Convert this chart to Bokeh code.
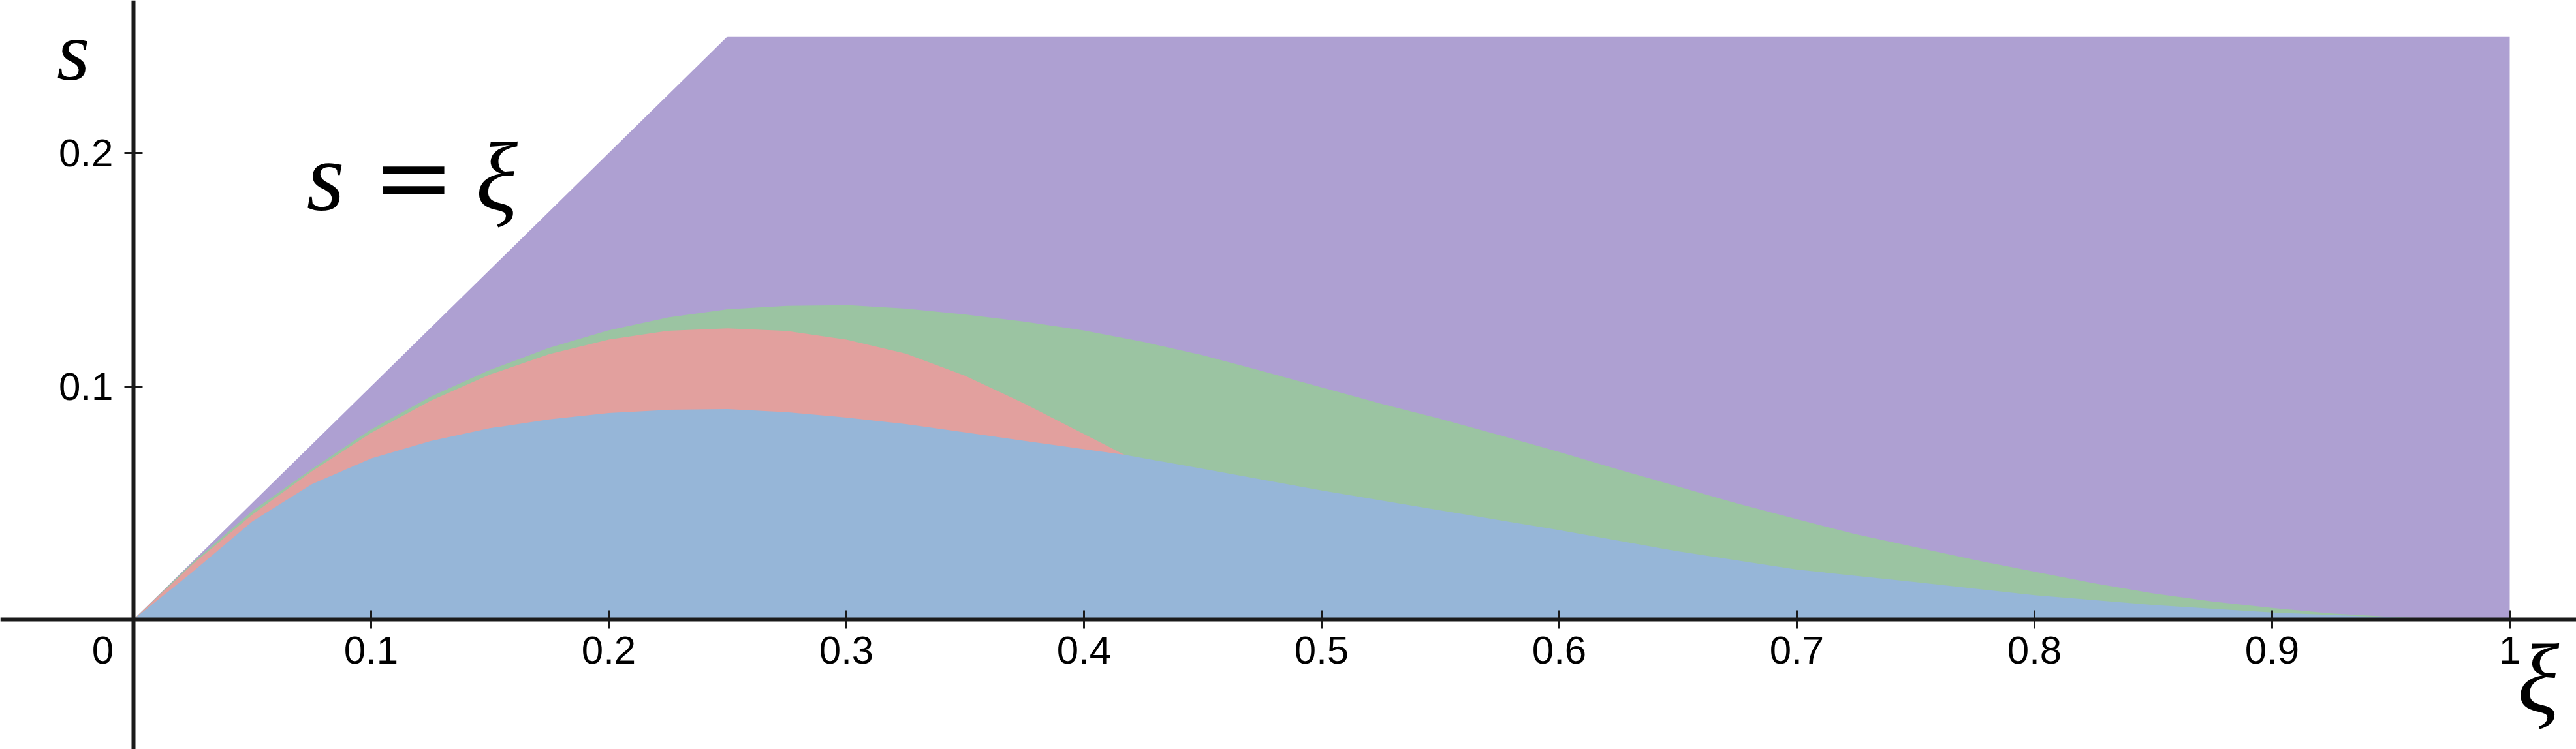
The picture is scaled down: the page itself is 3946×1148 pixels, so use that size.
from bokeh.plotting import figure
from bokeh.models import Range1d, FixedTicker, LinearAxis
from bokeh.embed import file_html
from bokeh.resources import INLINE
from bokeh.core.properties import value

# ---- region boundaries (xi, s) ----
purple_xi = [0.0, 0.25, 1.0]
purple_s = [0.0, 0.25, 0.25]

green_xi = [0, 0.025, 0.05, 0.075, 0.1, 0.125, 0.15, 0.175, 0.2, 0.225, 0.25, 0.275,
            0.3, 0.325, 0.35, 0.375, 0.4, 0.425, 0.45, 0.475, 0.5, 0.525, 0.55, 0.575,
            0.6, 0.625, 0.65, 0.675, 0.7, 0.725, 0.75, 0.775, 0.8, 0.825, 0.85, 0.875,
            0.9, 0.925, 0.95, 0.97, 0.985]
green_s = [0, 0.0245, 0.0465, 0.0645, 0.0815, 0.0955, 0.107, 0.1165, 0.124, 0.1295, 0.1330,
           0.1345, 0.1348, 0.1333, 0.1308, 0.1277, 0.1239, 0.1190, 0.1133, 0.1065, 0.0995,
           0.0925, 0.0860, 0.0790, 0.0718, 0.0643, 0.0570, 0.0497, 0.0430, 0.0365, 0.0310,
           0.0255, 0.0205, 0.0155, 0.0112, 0.0077, 0.0050, 0.0026, 0.0011, 0.0003, 0.0]

red_xi = [0, 0.025, 0.05, 0.075, 0.1, 0.125, 0.15, 0.175, 0.2, 0.225, 0.25, 0.275, 0.3,
          0.325, 0.35, 0.375, 0.4, 0.417]
red_s = [0, 0.0238, 0.045, 0.0635, 0.080, 0.0938, 0.105, 0.1138, 0.120, 0.1238, 0.1248,
         0.1237, 0.1200, 0.1140, 0.1045, 0.0925, 0.0795, 0.0706]

blue_xi = [0, 0.025, 0.05, 0.075, 0.1, 0.125, 0.15, 0.175, 0.2, 0.225, 0.25, 0.275, 0.3,
           0.325, 0.35, 0.375, 0.4, 0.417, 0.45, 0.5, 0.55, 0.6, 0.65, 0.7, 0.75, 0.8,
           0.85, 0.9, 0.95, 0.985]
blue_s = [0, 0.0205, 0.042, 0.058, 0.069, 0.0765, 0.0820, 0.0858, 0.0885, 0.0899, 0.0902,
          0.0889, 0.0866, 0.0838, 0.0802, 0.0766, 0.0730, 0.0706, 0.0646, 0.0553, 0.0468,
          0.0383, 0.0292, 0.0214, 0.0160, 0.0104, 0.0062, 0.0030, 0.0009, 0.0]

xticks = [0.1, 0.2, 0.3, 0.4, 0.5, 0.6, 0.7, 0.8, 0.9, 1.0]
xtick_labels = ["0.1", "0.2", "0.3", "0.4", "0.5", "0.6", "0.7", "0.8", "0.9", "1"]
yticks = [0.1, 0.2]
ytick_labels = ["0.1", "0.2"]

# annotation texts (italic serif math labels)
axis_s_text = ["s"]
axis_s_xi = [-0.0253]
axis_s_s = [0.2439]
math_texts = ["s", "ξ", "ξ"]
math_xi = [0.0728, 0.1440, 1.0120]
math_s = [0.1897, 0.1897, -0.0252]
math_align = ["left", "left", "center"]
eq_text = ["="]
eq_xi = [0.1179]
eq_s = [0.1897]

COL_PURPLE = "#AEA0D2"
COL_GREEN = "#9BC4A2"
COL_RED = "#E2A09E"
COL_BLUE = "#96B6D8"

W, H = 3946, 1148
p = figure(width=W, height=H,
           x_range=Range1d(-0.05604, 1.02802), y_range=Range1d(-0.05566, 0.26545),
           output_backend="svg", toolbar_location=None, min_border=0,
           x_axis_type=None, y_axis_type=None)
p.grid.visible = False
p.outline_line_color = None
p.background_fill_color = "white"
p.border_fill_color = "white"

p.varea(x=purple_xi, y1=[0] * len(purple_xi), y2=purple_s, fill_color=COL_PURPLE)
p.varea(x=green_xi, y1=[0] * len(green_xi), y2=green_s, fill_color=COL_GREEN)
p.varea(x=red_xi, y1=[0] * len(red_xi), y2=red_s, fill_color=COL_RED)
p.varea(x=blue_xi, y1=[0] * len(blue_xi), y2=blue_s, fill_color=COL_BLUE)

xaxis = LinearAxis(fixed_location=0, ticker=FixedTicker(ticks=xticks),
                   major_label_overrides=dict(zip(xticks, xtick_labels)))
yaxis = LinearAxis(fixed_location=0, ticker=FixedTicker(ticks=yticks),
                   major_label_overrides=dict(zip(yticks, ytick_labels)))
for ax in (xaxis, yaxis):
    ax.axis_line_color = "#1a1a1a"
    ax.axis_line_width = 6
    ax.major_tick_line_color = "#1a1a1a"
    ax.major_tick_line_width = 3
    ax.major_tick_in = 14
    ax.major_tick_out = 14
    ax.minor_tick_line_color = None
    ax.major_label_text_font = "Liberation Sans"
    ax.major_label_text_font_size = "60px"
    ax.major_label_text_color = "black"
xaxis.major_label_standoff = 12
yaxis.major_label_standoff = 17
p.add_layout(xaxis, "below")
p.add_layout(yaxis, "left")

# origin label "0"
p.text(x=[0], y=[0], text=["0"], x_offset=-47, y_offset=47,
       text_font=value("Liberation Sans"), text_font_size="60px",
       text_align="center", text_baseline="alphabetic", text_color="black")

p.text(x=axis_s_xi, y=axis_s_s, text=axis_s_text, text_align="center",
       text_font_style="italic", text_font=value("Liberation Serif"),
       text_font_size="130px", text_baseline="alphabetic", text_color="black")
p.text(x=math_xi, y=math_s, text=math_texts, text_align=math_align,
       text_font_style="italic", text_font=value("Liberation Serif"),
       text_font_size="150px", text_baseline="alphabetic", text_color="black")
p.text(x=eq_xi, y=eq_s, text=eq_text, text_align="center",
       text_font=value("DejaVu Serif"), text_font_size="150px",
       text_baseline="alphabetic", text_color="black")

open("out.html", "w").write(file_html(p, INLINE))
